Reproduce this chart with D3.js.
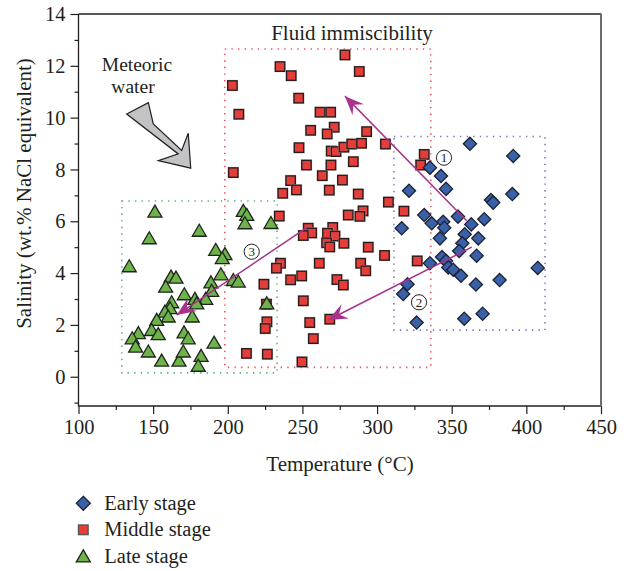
<!DOCTYPE html>
<html>
<head>
<meta charset="utf-8">
<script src="https://cdnjs.cloudflare.com/ajax/libs/d3/7.8.5/d3.min.js"></script>
<style>
  body { margin: 0; background: #fff; }
  text { font-family: "Liberation Serif", "DejaVu Serif", serif; fill: #231f20; }
</style>
</head>
<body>
<div id="chart"></div>
<script>
/* Data: temperature (°C) and salinity (wt.% NaCl eqv) */
var earlyTemp = [362.2, 391.2, 335.4, 342.8, 346.2, 321.4, 376.3, 377.8, 390.6, 331.6, 336.6, 344.3, 345.0, 316.5, 354.2, 363.1, 371.8, 342.1, 358.7, 357.1, 367.8, 355.0, 366.7, 335.4, 343.5, 346.2, 347.7, 351.0, 356.2, 366.2, 382.1, 407.6, 320.4, 317.5, 326.5, 358.4, 370.7];
var earlySal  = [8.99, 8.52, 8.07, 7.75, 7.25, 7.18, 6.82, 6.72, 7.05, 6.24, 5.92, 5.98, 5.75, 5.73, 6.18, 5.88, 6.08, 5.34, 5.50, 5.15, 5.34, 4.85, 4.67, 4.38, 4.62, 4.47, 4.22, 4.13, 3.90, 3.56, 3.73, 4.20, 3.57, 3.19, 2.09, 2.24, 2.43];

var middleTemp = [278.5, 288.1, 235.0, 242.5, 203.1, 247.5, 207.4, 261.8, 268.9, 255.5, 271.3, 266.6, 293.0, 247.7, 269.3, 272.5, 277.8, 283.0, 289.6, 305.6, 252.7, 269.1, 284.1, 203.7, 263.3, 276.8, 242.1, 246.0, 236.8, 268.0, 287.4, 331.6, 329.2, 307.6, 318.0, 280.7, 290.6, 288.5, 234.5, 253.9, 256.2, 250.6, 270.3, 266.8, 271.8, 266.2, 268.3, 277.8, 294.1, 305.0, 235.3, 232.6, 261.3, 289.0, 292.4, 242.1, 249.5, 224.2, 273.1, 277.4, 250.6, 225.9, 226.2, 225.1, 254.9, 268.3, 257.3, 212.5, 226.5, 249.7, 326.9];
var middleSal  = [12.42, 11.78, 11.97, 11.62, 11.24, 10.75, 10.13, 10.21, 10.21, 9.51, 9.63, 9.37, 9.46, 8.84, 8.71, 8.69, 8.86, 8.98, 9.01, 8.98, 8.17, 8.17, 8.30, 7.88, 7.76, 7.59, 7.57, 7.21, 7.08, 7.20, 7.05, 8.58, 8.17, 6.74, 6.39, 6.24, 6.40, 6.19, 6.20, 5.73, 5.55, 5.45, 5.76, 5.54, 5.43, 5.17, 5.01, 5.15, 5.00, 4.68, 4.38, 4.19, 4.38, 4.38, 4.09, 3.74, 3.89, 3.57, 3.75, 3.54, 2.93, 2.80, 2.12, 1.86, 2.09, 2.22, 1.47, 0.90, 0.87, 0.57, 4.47];

var lateTemp = [151.2, 180.9, 147.4, 134.0, 210.4, 212.7, 211.5, 228.9, 191.9, 198.1, 196.3, 195.4, 203.7, 207.0, 162.0, 165.3, 158.4, 188.7, 189.2, 185.2, 170.9, 178.0, 179.2, 176.2, 162.4, 161.3, 157.9, 160.1, 152.4, 149.0, 153.4, 140.1, 136.0, 138.3, 146.8, 155.7, 167.3, 170.2, 170.7, 173.5, 182.1, 180.2, 190.8, 226.1];
var lateSal  = [6.37, 5.63, 5.34, 4.26, 6.40, 6.24, 5.92, 5.93, 4.89, 4.73, 4.57, 3.95, 3.73, 3.67, 3.86, 3.82, 3.47, 3.64, 3.31, 3.00, 3.18, 3.00, 2.83, 2.32, 2.87, 2.64, 2.51, 2.32, 2.19, 1.80, 1.64, 1.68, 1.48, 1.16, 0.97, 0.62, 0.62, 0.97, 1.71, 1.48, 0.80, 0.42, 1.31, 2.83];

var xTicks = [100, 150, 200, 250, 300, 350, 400, 450];
var yTicks = [0, 2, 4, 6, 8, 10, 12, 14];
var legendLabels = ["Early stage", "Middle stage", "Late stage"];

/* dotted boxes: [tMin, tMax, sMin, sMax] */
var lateBox = [129, 233, 0.15, 6.78];
var middleBox = [198, 336, 0.36, 12.65];
var earlyBox = [311.3, 412.5, 1.8, 9.27];

/* magenta evolution arrows: [t0, s0, t1, s1] */
var arrows = [[360.0, 6.02, 278.5, 10.83], [363.4, 5.0, 267.3, 2.19], [253.9, 5.79, 165.8, 2.38]];

/* meteoric water arrow outline, data units */
var meteoricArrow = [[132.3, 10.14], [146.8, 10.58], [150.1, 9.76], [169.1, 8.73], [173.5, 9.40], [175.2, 8.05], [153.5, 8.34], [166.8, 8.60]];

var width = 638, height = 571;
var svg = d3.select("#chart").append("svg").attr("width", width).attr("height", height);

var x = d3.scaleLinear().domain([100, 450]).range([78.5, 601]);
var y = d3.scaleLinear().domain([-1.13, 14]).range([406, 14]);

var blue = "#3a60a8", red = "#e53e3a", green = "#6db34a", magenta = "#a8318c";

/* dotted region boxes */
function box(b, col) {
  svg.append("rect")
    .attr("x", x(b[0])).attr("y", y(b[3]))
    .attr("width", x(b[1]) - x(b[0])).attr("height", y(b[2]) - y(b[3]))
    .attr("fill", "none").attr("stroke", col)
    .attr("stroke-width", 1.6).attr("stroke-dasharray", "1.4,5.2");
}
box(lateBox, "#5cb56e");
box(middleBox, "#ec5560");
box(earlyBox, "#7b78be");

/* axes */
var xMajor = d3.axisBottom(x).tickValues(xTicks).tickSize(8).tickPadding(5).tickFormat(d3.format("d"));
var xMinor = d3.axisBottom(x).tickValues(d3.range(125, 450, 50)).tickSize(4).tickFormat("");
var yMajor = d3.axisLeft(y).tickValues(yTicks).tickSize(8).tickPadding(5).tickFormat(d3.format("d"));
var yMinor = d3.axisLeft(y).tickValues(d3.range(-1, 14, 2)).tickSize(4).tickFormat("");

[xMajor, xMinor].forEach(function(a) {
  svg.append("g").attr("transform", "translate(0,406)").call(a);
});
[yMajor, yMinor].forEach(function(a) {
  svg.append("g").attr("transform", "translate(78.5,0)").call(a);
});
svg.selectAll(".domain").remove();
svg.selectAll(".tick line").attr("stroke", "#231f20").attr("stroke-width", 1.2);
svg.selectAll(".tick text").style("font-size", "20.5px").attr("fill", "#231f20");

/* frame */
svg.append("path").attr("d", "M78.5,14 H601 M78.5,14 V406 H601")
  .attr("fill", "none").attr("stroke", "#231f20").attr("stroke-width", 1.3);
svg.append("line").attr("x1", 601).attr("x2", 601).attr("y1", 13.4).attr("y2", 406.6)
  .attr("stroke", "#6d6d6d").attr("stroke-width", 2);

/* markers */
var diamond = "M0,-6.6 L6.6,0 L0,6.6 L-6.6,0 Z";
var triangle = "M0,-6.6 L7,5.4 L-7,5.4 Z";

var mid = svg.append("g");
middleTemp.forEach(function(t, i) {
  mid.append("rect").attr("x", x(t) - 5.8).attr("y", y(middleSal[i]) - 5.8)
    .attr("width", 11.6).attr("height", 11.6).attr("fill", "#c4c4c4").attr("opacity", 0.6);
  mid.append("rect").attr("x", x(t) - 4.7).attr("y", y(middleSal[i]) - 4.7)
    .attr("width", 9.4).attr("height", 9.4)
    .attr("fill", red).attr("stroke", "#2b1d1d").attr("stroke-width", 1.4);
});

svg.append("g").selectAll("path").data(earlyTemp).enter().append("path")
  .attr("d", diamond)
  .attr("transform", function(d, i) { return "translate(" + x(d) + "," + y(earlySal[i]) + ")"; })
  .attr("fill", blue).attr("stroke", "#1c2233").attr("stroke-width", 1.3);

svg.append("g").selectAll("path").data(lateTemp).enter().append("path")
  .attr("d", triangle)
  .attr("transform", function(d, i) { return "translate(" + x(d) + "," + y(lateSal[i]) + ")"; })
  .attr("fill", green).attr("stroke", "#1e241b").attr("stroke-width", 1.3);

/* magenta arrows */
arrows.forEach(function(a) {
  var x0 = x(a[0]), y0 = y(a[1]), x1 = x(a[2]), y1 = y(a[3]);
  var ang = Math.atan2(y1 - y0, x1 - x0) * 180 / Math.PI;
  svg.append("line").attr("x1", x0).attr("y1", y0).attr("x2", x1).attr("y2", y1)
    .attr("stroke", magenta).attr("stroke-width", 1.5);
  svg.append("path").attr("d", "M0,0 L-19,-8 L-12,0 L-19,8 Z")
    .attr("transform", "translate(" + x1 + "," + y1 + ") rotate(" + ang + ")")
    .attr("fill", magenta);
});

/* meteoric water arrow */
svg.append("path")
  .attr("d", d3.line().x(function(d) { return x(d[0]); }).y(function(d) { return y(d[1]); })(meteoricArrow) + "Z")
  .attr("fill", "#c2c3c5").attr("stroke", "#231f20").attr("stroke-width", 1.2)
  .attr("stroke-linejoin", "miter");

/* circled numbers */
[["1", 444, 157.7], ["2", 419, 302.3], ["3", 251.7, 251.7]].forEach(function(c) {
  svg.append("circle").attr("cx", c[1]).attr("cy", c[2]).attr("r", 7.6)
    .attr("fill", "#fff").attr("stroke", "#231f20").attr("stroke-width", 1);
  svg.append("text").attr("x", c[1]).attr("y", c[2] + 4.6)
    .attr("text-anchor", "middle").style("font-size", "13px").text(c[0]);
});

/* text annotations */
svg.append("text").attr("x", 352).attr("y", 40).attr("text-anchor", "middle")
  .style("font-size", "21px").text("Fluid immiscibility");
svg.append("text").attr("x", 137).attr("y", 71).attr("text-anchor", "middle")
  .style("font-size", "19.5px").text("Meteoric");
svg.append("text").attr("x", 133).attr("y", 93).attr("text-anchor", "middle")
  .style("font-size", "19.5px").text("water");

/* axis titles */
svg.append("text").attr("x", 340).attr("y", 471).attr("text-anchor", "middle")
  .style("font-size", "21px").text("Temperature (°C)");
svg.append("text").attr("transform", "translate(31,193.5) rotate(-90)")
  .attr("text-anchor", "middle").style("font-size", "21px")
  .text("Salinity (wt.% NaCl equivalent)");

/* legend */
var legY = [503.3, 529.8, 556.5];
var leg = svg.append("g");
leg.append("path").attr("d", "M0,-7 L7,0 L0,7 L-7,0 Z")
  .attr("transform", "translate(83.3," + legY[0] + ")")
  .attr("fill", blue).attr("stroke", "#1c2233").attr("stroke-width", 1.3);
leg.append("rect").attr("x", 78.5).attr("y", legY[1] - 4.8).attr("width", 9.6).attr("height", 9.6)
  .attr("fill", red).attr("stroke", "#555").attr("stroke-width", 1.4);
leg.append("path").attr("d", triangle)
  .attr("transform", "translate(83.3," + legY[2] + ")")
  .attr("fill", green).attr("stroke", "#1e241b").attr("stroke-width", 1.3);
leg.selectAll("text").data(legendLabels).enter().append("text")
  .attr("x", 104.3).attr("y", function(d, i) { return legY[i] + 6.5; })
  .style("font-size", "20.5px").text(function(d) { return d; });
</script>
</body>
</html>
